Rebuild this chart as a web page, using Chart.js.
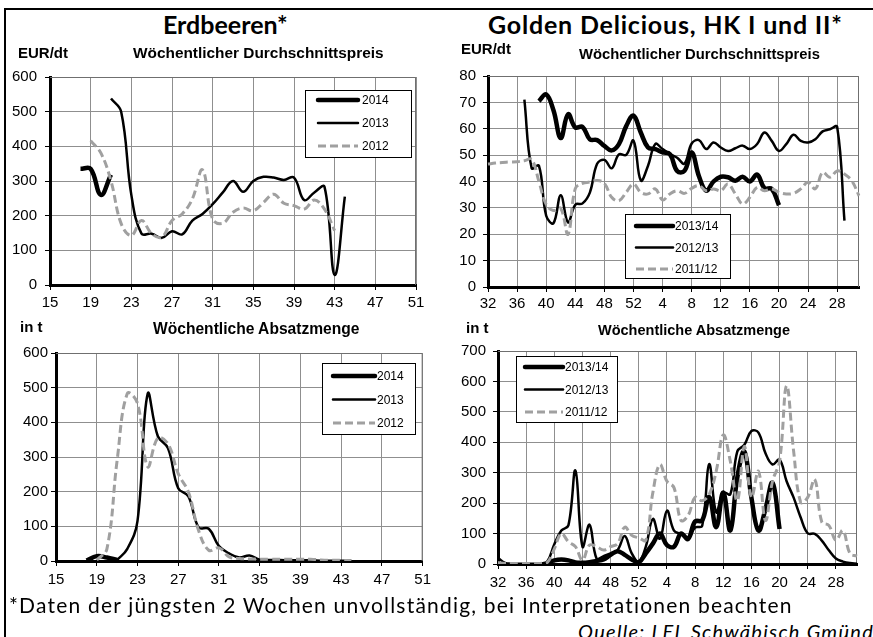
<!DOCTYPE html>
<html>
<head>
<meta charset="utf-8">
<script src="https://cdn.jsdelivr.net/npm/chart.js@4.4.1/dist/chart.umd.min.js"></script>
<style>
  body { margin: 0; width: 873px; height: 637px; overflow: hidden; background: #fff; position: relative; }
  .rahmen { position: absolute; left: 4px; top: 8px; width: 900px; height: 700px; border: 2px solid #000; }
  .chart { position: absolute; }
  .txt { position: absolute; white-space: nowrap; color: #000; }
  .titel { font-family: Lato, "Open Sans", sans-serif; font-weight: bold; font-size: 25px; line-height: 28px; }
  .achse { font-family: "Liberation Sans", Arial, sans-serif; font-weight: bold; font-size: 15px; line-height: 16px; }
  .fuss { font-family: Lato, "Open Sans", sans-serif; font-size: 21px; line-height: 24px; letter-spacing: 1.2px; }
</style>
</head>
<body>
<div class="rahmen"></div>

<div class="chart" style="left:0;top:60px"><canvas id="erdPreis" width="436" height="260"></canvas></div>
<div class="chart" style="left:436px;top:60px"><canvas id="goldPreis" width="437" height="260"></canvas></div>
<div class="chart" style="left:0;top:335px"><canvas id="erdMenge" width="436" height="260"></canvas></div>
<div class="chart" style="left:436px;top:335px"><canvas id="goldMenge" width="437" height="260"></canvas></div>

<div class="txt titel" style="left:163px;top:10px">Erdbeeren*</div>
<div class="txt titel" style="left:488px;top:10px;letter-spacing:0.8px">Golden Delicious, HK I und II*</div>

<div class="txt achse" style="left:18px;top:45px">EUR/dt</div>
<div class="txt achse" style="left:133px;top:45px;font-size:15.4px">Wöchentlicher Durchschnittspreis</div>
<div class="txt achse" style="left:461px;top:41px">EUR/dt</div>
<div class="txt achse" style="left:579px;top:46px;font-size:14.8px">Wöchentlicher Durchschnittspreis</div>
<div class="txt achse" style="left:20px;top:319px">in t</div>
<div class="txt achse" style="left:153px;top:321px;font-size:15.6px">Wöchentliche Absatzmenge</div>
<div class="txt achse" style="left:466px;top:320px">in t</div>
<div class="txt achse" style="left:598px;top:322px;font-size:14.5px">Wöchentliche Absatzmenge</div>

<div class="txt fuss" style="left:9px;top:593px">*Daten der jüngsten 2 Wochen unvollständig, bei Interpretationen beachten</div>
<div class="txt fuss" style="left:578px;top:619px;font-style:italic;font-size:20px;letter-spacing:1.3px">Quelle: LEL Schwäbisch Gmünd</div>

<script>
// Kalenderwochen (Kategorien)
const erdWochen = [15, 16, 17, 18, 19, 20, 21, 22, 23, 24, 25, 26, 27, 28, 29, 30, 31, 32, 33,
  34, 35, 36, 37, 38, 39, 40, 41, 42, 43, 44, 45, 46, 47, 48, 49, 50, 51];
const goldWochen = [32, 33, 34, 35, 36, 37, 38, 39, 40, 41, 42, 43, 44, 45, 46, 47, 48, 49, 50, 51, 52,
  1, 2, 3, 4, 5, 6, 7, 8, 9, 10, 11, 12, 13, 14, 15, 16, 17, 18, 19, 20, 21, 22, 23, 24, 25, 26, 27, 28, 29, 30, 31];

// Erdbeeren, Preis EUR/dt (Startwoche, Werte)
const erdPreis2014Start = 18;
const erdPreis2014 = [335, 335, 260, 318];
const erdPreis2013Start = 21;
const erdPreis2013 = [538, 500, 260, 148, 148, 136, 155, 146, 186, 205, 233, 267, 300, 269, 300, 312,
  310, 303, 310, 245, 267, 283, 29, 255];
const erdPreis2012Start = 19;
const erdPreis2012 = [416, 381, 300, 177, 143, 186, 148, 138, 186, 205, 248, 332, 190, 178, 210, 222,
  214, 238, 262, 236, 229, 219, 245, 219, 157];

// Erdbeeren, Absatz in t
const erdMenge2014Start = 18;
const erdMenge2014 = [1, 14, 10, 3];
const erdMenge2013Start = 21;
const erdMenge2013 = [3, 35, 115, 482, 360, 325, 210, 186, 97, 93, 43, 22, 10, 16, 4, 3, 3, 2, 2, 2, 1, 1, 1, 1];
const erdMenge2012Start = 19;
const erdMenge2012 = [3, 35, 290, 483, 455, 272, 355, 338, 252, 199, 88, 31, 38, 12, 7, 6, 5, 5, 5, 5,
  5, 5, 3, 2, 2, 1];

// Golden Delicious, Preis EUR/dt
const goldPreis1314Start = 39;
const goldPreis1314 = [70.5, 73, 67, 56.5, 65.5, 60.5, 60.7, 56, 55.7, 53.5, 51.8, 54.2, 61, 65, 58.6,
  52.9, 52.3, 51, 50.4, 44, 44, 51, 42, 36.5, 40, 41.8, 41.6, 40.3, 41.8, 40, 42.6, 37.5, 37.2, 31];
const goldPreis1213Start = 37;
const goldPreis1213 = [71, 45, 46, 27, 24.2, 34.8, 24.5, 31.2, 31.7, 35.8, 46.7, 48.2, 45, 50.3, 50.1,
  55.5, 40.4, 46, 54.2, 52.3, 50.5, 49, 46.8, 54.4, 55.7, 52.3, 54.8, 52.9, 51.6, 52.6, 53.6, 52.3,
  54.2, 58.6, 55.4, 51.6, 54.2, 57.7, 55.4, 54.8, 56, 59, 59.8, 60.7, 25.2];
const goldPreis1112Start = 32;
const goldPreis1112 = [46.6, 47, 47.2, 47.4, 47.5, 47.9, 48.4, 40, 31.3, 29, 29.8, 20, 37.3, 39.3, 39.8,
  40.4, 39.3, 34, 32.7, 35.9, 39, 35.9, 35.3, 37.2, 33, 35.3, 36.5, 35.5, 37.4, 38.4, 36.5, 37.2, 36.5,
  39, 35.3, 31.5, 34, 37.8, 36.5, 37.2, 35.9, 35.3, 35.5, 37.2, 39.7, 37.2, 43.5, 41.6, 44, 42.8, 40.3, 34.6];

// Golden Delicious, Absatz in t
const goldMenge1314Start = 39;
const goldMenge1314 = [3, 12, 15, 12, 5, 4, 6, 10, 15, 30, 42, 30, 15, 6, 35, 67, 100, 62, 57, 100, 82,
  140, 143, 220, 121, 235, 110, 285, 370, 218, 110, 181, 267, 115];
const goldMenge1213Start = 32;
const goldMenge1213 = [20, 4, 1, 1, 1, 1, 2, 8, 65, 110, 127, 307, 57, 129, 18, 26, 35, 46, 92, 35, 7,
  57, 148, 83, 175, 110, 98, 84, 120, 125, 328, 170, 235, 229, 370, 392, 437, 432, 364, 327, 343, 272,
  218, 153, 101, 99, 77, 45, 18, 8, 3, 1];
const goldMenge1112Start = 32;
const goldMenge1112 = [5, 2, 2, 2, 2, 2, 2, 5, 50, 100, 73, 57, 13, 62, 57, 46, 57, 67, 121, 94, 86, 78,
  235, 327, 272, 251, 143, 159, 219, 208, 229, 305, 424, 338, 208, 386, 219, 305, 143, 272, 338, 586,
  370, 203, 219, 278, 138, 127, 78, 110, 35, 26];

// Werte an die Kategorien anlegen (Rest bleibt leer)
function anlegen(wochen, start, werte) {
  const out = wochen.map(() => null);
  const i0 = wochen.indexOf(start);
  werte.forEach((v, k) => { out[i0 + k] = v; });
  return out;
}

const schrift = '"Liberation Sans", Arial, sans-serif';
const grau = '#a0a0a0';
const gitter = '#8f8f8f';

const dick = { borderColor: '#000', borderWidth: 4.5 };
const duenn = { borderColor: '#000', borderWidth: 2.5 };
const gestrichelt = { borderColor: grau, borderWidth: 3, borderDash: [8, 4] };

// Legende als Kasten im Diagramm
const legendeKasten = {
  id: 'legendeKasten',
  afterDatasetsDraw(chart, args, o) {
    const c = chart.ctx;
    c.save();
    c.fillStyle = '#fff';
    c.fillRect(o.x, o.y, o.w, o.h);
    c.strokeStyle = '#000';
    c.lineWidth = 1;
    c.strokeRect(o.x + 0.5, o.y + 0.5, o.w, o.h);
    chart.data.datasets.forEach((ds, i) => {
      const y = o.y + o.zeile0 + i * o.abstand;
      c.beginPath();
      c.lineWidth = ds.borderWidth;
      c.strokeStyle = ds.borderColor;
      c.setLineDash(ds.borderDash || []);
      c.lineCap = ds.borderDash ? 'butt' : 'round';
      c.moveTo(o.x + o.l0, y);
      c.lineTo(o.x + o.l1, y);
      c.stroke();
      c.setLineDash([]);
      c.fillStyle = '#000';
      c.font = '12px ' + schrift;
      c.textBaseline = 'middle';
      c.fillText(ds.label, o.x + o.tx, y + 1);
    });
    c.restore();
  }
};

// obere und rechte Rahmenlinie der Zeichenfläche
const rahmen = {
  id: 'rahmen',
  beforeDatasetsDraw(chart) {
    const a = chart.chartArea, c = chart.ctx;
    c.save();
    c.strokeStyle = '#6f6f6f';
    c.lineWidth = 1;
    c.beginPath();
    c.moveTo(a.left, a.top + 0.5);
    c.lineTo(a.right - 0.5, a.top + 0.5);
    c.lineTo(a.right - 0.5, a.bottom);
    c.stroke();
    c.restore();
  }
};

function diagramm(id, wochen, reihen, yMax, yStep, lay, legende) {
  new Chart(document.getElementById(id), {
    type: 'line',
    data: {
      labels: wochen.map(String),
      datasets: reihen.map((r, i) => Object.assign({
        label: r.label,
        data: r.data,
        pointRadius: 0,
        tension: 0.4,
        fill: false,
        spanGaps: false,
        borderJoinStyle: 'round',
        order: reihen.length - i
      }, r.stil))
    },
    options: {
      responsive: false,
      animation: false,
      devicePixelRatio: 1,
      layout: { padding: { left: 0, top: lay.top, right: lay.right, bottom: 0 } },
      plugins: {
        legend: { display: false },
        tooltip: { enabled: false },
        legendeKasten: legende
      },
      scales: {
        x: {
          offset: false,
          grid: {
            color: c => c.index % 4 === 0 ? gitter : 'rgba(0,0,0,0)',
            tickColor: c => c.index % 4 === 0 ? '#000' : 'rgba(0,0,0,0)',
            tickLength: 5,
            lineWidth: 1
          },
          border: { color: '#000', width: 3 },
          ticks: {
            autoSkip: false,
            maxRotation: 0,
            color: '#000',
            padding: lay.xPad,
            font: { family: schrift, size: 15 },
            callback: function (v, i) { return i % 4 === 0 ? this.getLabelForValue(v) : ''; }
          },
          afterFit: s => { s.height = lay.xH; }
        },
        y: {
          min: 0,
          max: yMax,
          grid: { color: gitter, tickColor: '#000', tickLength: 5, lineWidth: 1 },
          border: { color: '#000', width: 3 },
          ticks: {
            stepSize: yStep,
            color: '#000',
            padding: lay.yPad,
            font: { family: schrift, size: 15 }
          },
          afterFit: s => { s.width = lay.yW; }
        }
      }
    },
    plugins: [rahmen, legendeKasten]
  });
}

diagramm('erdPreis', erdWochen, [
  { label: '2014', data: anlegen(erdWochen, erdPreis2014Start, erdPreis2014), stil: dick },
  { label: '2013', data: anlegen(erdWochen, erdPreis2013Start, erdPreis2013), stil: duenn },
  { label: '2012', data: anlegen(erdWochen, erdPreis2012Start, erdPreis2012), stil: gestrichelt }
], 600, 100, { top: 15, right: 20, yW: 50, xH: 35, yPad: 8, xPad: 4 },
{ x: 305, y: 30, w: 106, h: 67, l0: 13, l1: 53, tx: 57, zeile0: 10, abstand: 23 });

diagramm('goldPreis', goldWochen, [
  { label: '2013/14', data: anlegen(goldWochen, goldPreis1314Start, goldPreis1314), stil: dick },
  { label: '2012/13', data: anlegen(goldWochen, goldPreis1213Start, goldPreis1213), stil: duenn },
  { label: '2011/12', data: anlegen(goldWochen, goldPreis1112Start, goldPreis1112), stil: gestrichelt }
], 80, 10, { top: 15, right: 14, yW: 52, xH: 33, yPad: 7, xPad: 3 },
{ x: 189, y: 154, w: 105, h: 64, l0: 11, l1: 48, tx: 50, zeile0: 12, abstand: 21.5 });

diagramm('erdMenge', erdWochen, [
  { label: '2014', data: anlegen(erdWochen, erdMenge2014Start, erdMenge2014), stil: dick },
  { label: '2013', data: anlegen(erdWochen, erdMenge2013Start, erdMenge2013), stil: duenn },
  { label: '2012', data: anlegen(erdWochen, erdMenge2012Start, erdMenge2012), stil: gestrichelt }
], 600, 100, { top: 18, right: 11, yW: 56, xH: 34, yPad: 3, xPad: 5 },
{ x: 322, y: 28, w: 93, h: 71, l0: 11, l1: 53, tx: 55, zeile0: 13, abstand: 23.5 });

diagramm('goldMenge', goldWochen, [
  { label: '2013/14', data: anlegen(goldWochen, goldMenge1314Start, goldMenge1314), stil: dick },
  { label: '2012/13', data: anlegen(goldWochen, goldMenge1213Start, goldMenge1213), stil: duenn },
  { label: '2011/12', data: anlegen(goldWochen, goldMenge1112Start, goldMenge1112), stil: gestrichelt }
], 700, 100, { top: 13, right: 16, yW: 62, xH: 31, yPad: 7, xPad: 5 },
{ x: 80, y: 21, w: 101, h: 66, l0: 9, l1: 47, tx: 49, zeile0: 11, abstand: 22.5 });
</script>
</body>
</html>
